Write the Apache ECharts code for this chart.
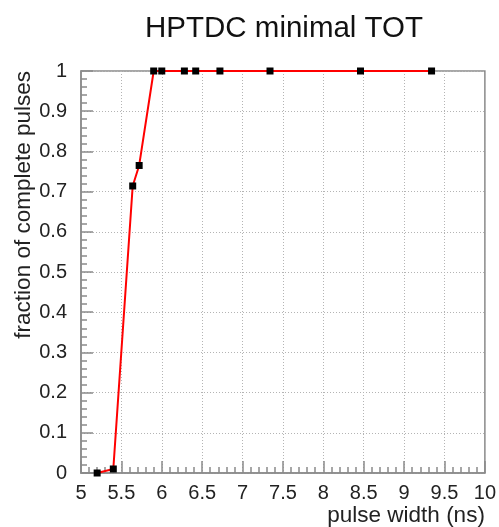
<!DOCTYPE html>
<html>
<head>
<meta charset="utf-8">
<style>
  html, body { margin: 0; padding: 0; background: #fff; }
  #chart { width: 499px; height: 527px; }
</style>
<script src="https://cdn.jsdelivr.net/npm/echarts@6/dist/echarts.min.js"></script>
</head>
<body>
<div id="chart"></div>
<script>
// pulse width (ns) and fraction of complete pulses
const pulseWidth = [5.2, 5.4, 5.64, 5.72, 5.9, 6.0, 6.28, 6.42, 6.72, 7.34, 8.46, 9.34];
const fraction = [0, 0.01, 0.714, 0.765, 1, 1, 1, 1, 1, 1, 1, 1];

const font = 'Liberation Sans, Arial, sans-serif';
const axisColor = '#8a8a8a';

const chart = echarts.init(document.getElementById('chart'));

const axisCommon = {
  type: 'value',
  nameMoveOverlap: false,
  axisLine: { show: true, lineStyle: { color: axisColor, width: 1.5 } },
  axisTick: { show: true, inside: true, length: 12, lineStyle: { color: axisColor, width: 1.5 } },
  minorTick: { show: true, splitNumber: 5, length: 6, lineStyle: { color: axisColor, width: 1.5 } },
  splitLine: { show: true, lineStyle: { color: '#b4b4b4', type: [1, 2], width: 1 } },
  axisLabel: { color: '#222', fontFamily: font, fontSize: 20 },
  nameTextStyle: { color: '#222', fontFamily: font, fontSize: 22.5 },
};

chart.setOption({
  animation: false,
  title: {
    text: 'HPTDC minimal TOT',
    left: 145,
    top: 14,
    padding: 0,
    textStyle: { color: '#111', fontFamily: font, fontSize: 29.5, fontWeight: 'normal' },
  },
  grid: {
    left: 81, right: 13, top: 71, bottom: 52,
    show: true, borderColor: axisColor, borderWidth: 1.5,
  },
  xAxis: {
    ...axisCommon,
    min: 5, max: 10, interval: 0.5,
    name: 'pulse width (ns)',
    nameLocation: 'end',
    nameGap: 0,
    nameTextStyle: {
      ...axisCommon.nameTextStyle,
      align: 'right', verticalAlign: 'top',
      padding: [31, 0, 0, 0],
    },
    axisLabel: { ...axisCommon.axisLabel, margin: 10 },
  },
  yAxis: {
    ...axisCommon,
    min: 0, max: 1, interval: 0.1,
    name: 'fraction of complete pulses',
    nameLocation: 'end',
    nameRotate: 90,
    nameGap: 0,
    nameTextStyle: {
      ...axisCommon.nameTextStyle,
      align: 'right', verticalAlign: 'bottom',
      padding: [0, 0, 46, 0],
    },
    axisLabel: {
      ...axisCommon.axisLabel,
      margin: 14,
      formatter: (v) => String(Math.round(v * 10) / 10),
    },
  },
  series: [
    {
      type: 'line',
      data: pulseWidth.map((x, i) => [x, fraction[i]]),
      symbol: 'rect',
      symbolSize: 7,
      showAllSymbol: true,
      clip: false,
      itemStyle: { color: '#000' },
      lineStyle: { color: '#ff0000', width: 2 },
      z: 3,
    },
  ],
});
</script>
</body>
</html>
